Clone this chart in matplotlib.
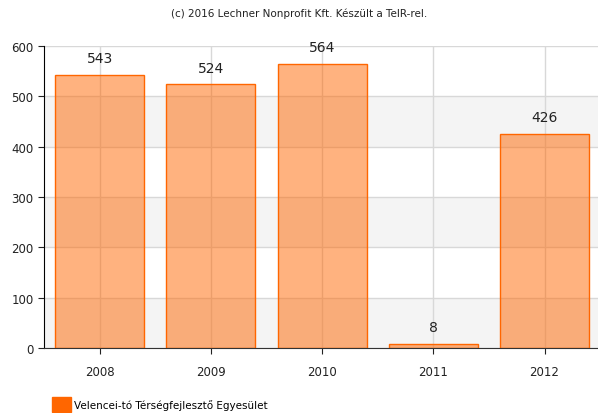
import matplotlib
matplotlib.use("Agg")
import matplotlib.pyplot as plt
from matplotlib.patches import Patch

years = ["2008", "2009", "2010", "2011", "2012"]
values = [543, 524, 564, 8, 426]
series_name = "Velencei-tó Térségfejlesztő Egyesület"
title = "(c) 2016 Lechner Nonprofit Kft. Készült a TeIR-rel."

orange = "#ff6600"

fig = plt.figure(figsize=(5.98, 4.14), dpi=100)
ax = fig.add_axes([0.0736, 0.157, 0.93, 0.7295])

x = list(range(len(years)))

# alternating background bands
for lo in range(0, 600, 200):
    ax.axhspan(lo, lo + 100, color="#f4f4f4", zorder=0, lw=0)

# gridlines sit behind the translucent bars
ax.set_axisbelow(True)
ax.grid(True, color="#d8d8d8", lw=1)
ax.bar(x, values, width=0.8, facecolor=(1.0, 0.4, 0.0, 0.5),
       edgecolor=orange, linewidth=1, zorder=1)

for xi, v in zip(x, values):
    ax.annotate(str(v), (xi, v), xytext=(0, 12), textcoords="offset points",
                ha="center", va="center", fontsize=10, color="#222222")

ax.set_xlim(-0.5, len(years) - 0.5)
ax.set_ylim(0, 600)
ax.set_yticks(range(0, 601, 100))
ax.set_xticks(x)
ax.set_xticklabels(years)
ax.tick_params(axis="both", labelsize=8.5, colors="#222222", length=4)
ax.tick_params(axis="x", pad=8)

for side in ("top", "right"):
    ax.spines[side].set_visible(False)
ax.spines["left"].set_color("#000000")
ax.spines["bottom"].set_color("#333333")

fig.text(0.5, 0.966, title, ha="center", va="center", fontsize=7.5, color="#222222")

fig.legend(handles=[Patch(facecolor=orange, edgecolor=orange, label=series_name)],
           loc="lower left", bbox_to_anchor=(0.072, -0.02), frameon=False,
           fontsize=7.5, handlelength=1.8, handleheight=1.8, handletextpad=0.3)

fig.savefig("out.png", dpi=100)
